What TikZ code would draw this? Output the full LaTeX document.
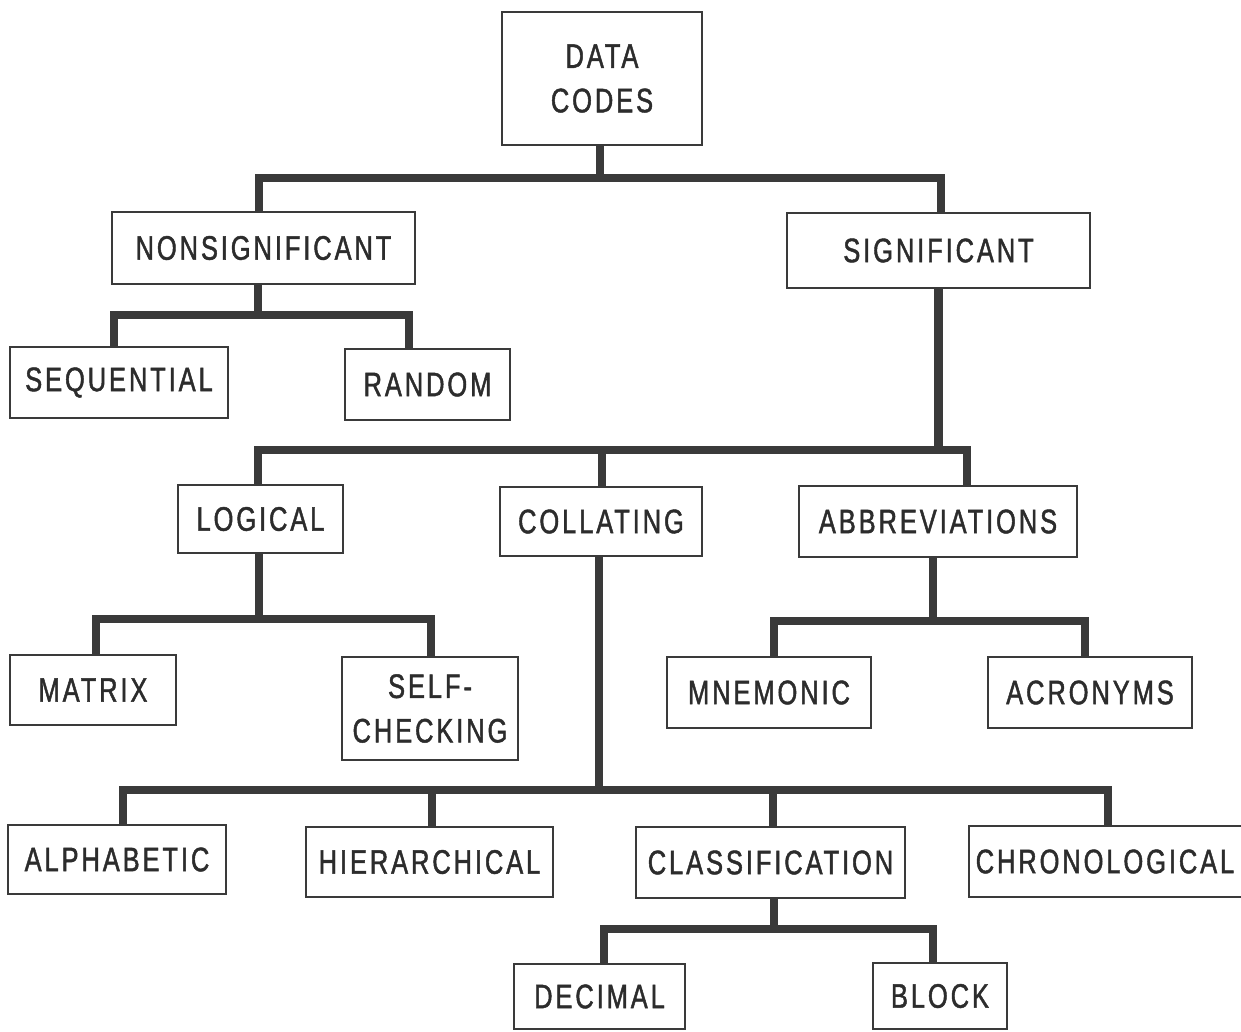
\documentclass[tikz,border=0pt]{standalone}
\usepackage{fontspec}
\setmainfont{Liberation Sans}[FakeStretch=0.75,LetterSpace=8.5,FakeBold=1.3]
\definecolor{ink}{HTML}{2C2C2C}
\definecolor{linec}{HTML}{3A3A3A}
\begin{document}
\begin{tikzpicture}[x=1pt,y=-1pt,
  box/.style={draw=linec,line width=2.8pt,rectangle,inner sep=0pt,text=ink,
    font=\fontsize{34}{44.5}\selectfont,align=center},
  conn/.style={draw=linec,line width=8.5pt,line join=miter}]
\fill[white] (0,0) rectangle (1241,1031);
\useasboundingbox (0,0) rectangle (1241,1031);
% boxes
\node[box,minimum width=200pt,minimum height=133pt] (codes) at (602,78.5) {DATA\\CODES};
\node[box,minimum width=303pt,minimum height=72pt] (nonsig) at (263.5,248) {NONSIGNIFICANT};
\node[box,minimum width=303pt,minimum height=75pt] (sig) at (938.5,250.5) {SIGNIFICANT};
\node[box,minimum width=218pt,minimum height=71pt] (seq) at (119,382.5) {SEQUENTIAL};
\node[box,minimum width=165pt,minimum height=71pt] (random) at (427.5,384.5) {RANDOM};
\node[box,minimum width=165pt,minimum height=68pt] (logical) at (260.5,519) {LOGICAL};
\node[box,minimum width=202pt,minimum height=69pt] (collating) at (601,521.5) {COLLATING};
\node[box,minimum width=278pt,minimum height=71pt] (abbrev) at (938,521.5) {ABBREVIATIONS};
\node[box,minimum width=166pt,minimum height=70pt] (matrix) at (93,690) {MATRIX};
\node[box,minimum width=176pt,minimum height=103pt] (selfcheck) at (430,708.5) {SELF-\\CHECKING};
\node[box,minimum width=204pt,minimum height=71pt] (mnemonic) at (769,692.5) {MNEMONIC};
\node[box,minimum width=204pt,minimum height=71pt] (acronyms) at (1090,692.5) {ACRONYMS};
\node[box,minimum width=218pt,minimum height=69pt] (alpha) at (117,859.5) {ALPHABETIC};
\node[box,minimum width=247pt,minimum height=70pt] (hier) at (429.5,862) {HIERARCHICAL};
\node[box,minimum width=269pt,minimum height=71pt] (class) at (770.5,862.5) {CLASSIFICATION};
\node[box,minimum width=279pt,minimum height=71pt,text width=279pt] (chrono) at (1108.5,861.5) {\hspace*{-7pt}CHRONOLOGICAL};
\node[box,minimum width=171pt,minimum height=65pt] (decimal) at (599.5,996.5) {DECIMAL};
\node[box,minimum width=134pt,minimum height=66pt] (block) at (940,996) {BLOCK};
% bus coordinates
\coordinate (b1) at (600,178);
\coordinate (b2) at (258,315);
\coordinate (b3) at (938.5,450);
\coordinate (b4) at (259,619);
\coordinate (b5) at (933,621);
\coordinate (b6) at (599,790);
\coordinate (b7) at (774,929);
% connectors
\draw[conn] ([xshift=-2pt]codes.south) -- ([xshift=-2pt]codes.south |- b1);
\draw[conn] ([xshift=-4.5pt]nonsig.north) |- (b1) -| ([xshift=2.5pt]sig.north);
\draw[conn] ([xshift=-5.5pt]nonsig.south) -- (b2);
\draw[conn] ([xshift=-5pt]seq.north) |- (b2) -| ([xshift=-18.5pt]random.north);
\draw[conn] (sig.south) -- (b3);
\draw[conn] ([xshift=-2.5pt]logical.north) |- (b3) -| ([xshift=29pt]abbrev.north);
\draw[conn] ([xshift=1pt]collating.north) -- ([xshift=1pt]collating.north |- b3);
\draw[conn] ([xshift=-1.5pt]logical.south) -- (b4);
\draw[conn] ([xshift=3pt]matrix.north) |- (b4) -| ([xshift=1pt]selfcheck.north);
\draw[conn] ([xshift=-5pt]abbrev.south) -- (b5);
\draw[conn] ([xshift=5pt]mnemonic.north) |- (b5) -| ([xshift=-5pt]acronyms.north);
\draw[conn] ([xshift=-2pt]collating.south) -- (b6);
\draw[conn] ([xshift=6pt]alpha.north) |- (b6) -| ([xshift=-0.5pt]chrono.north);
\draw[conn] ([xshift=2.5pt]hier.north) -- ([xshift=2.5pt]hier.north |- b6);
\draw[conn] ([xshift=2.5pt]class.north) -- ([xshift=2.5pt]class.north |- b6);
\draw[conn] ([xshift=3.5pt]class.south) -- (b7);
\draw[conn] ([xshift=4.5pt]decimal.north) |- (b7) -| ([xshift=-7pt]block.north);
\end{tikzpicture}
\end{document}
